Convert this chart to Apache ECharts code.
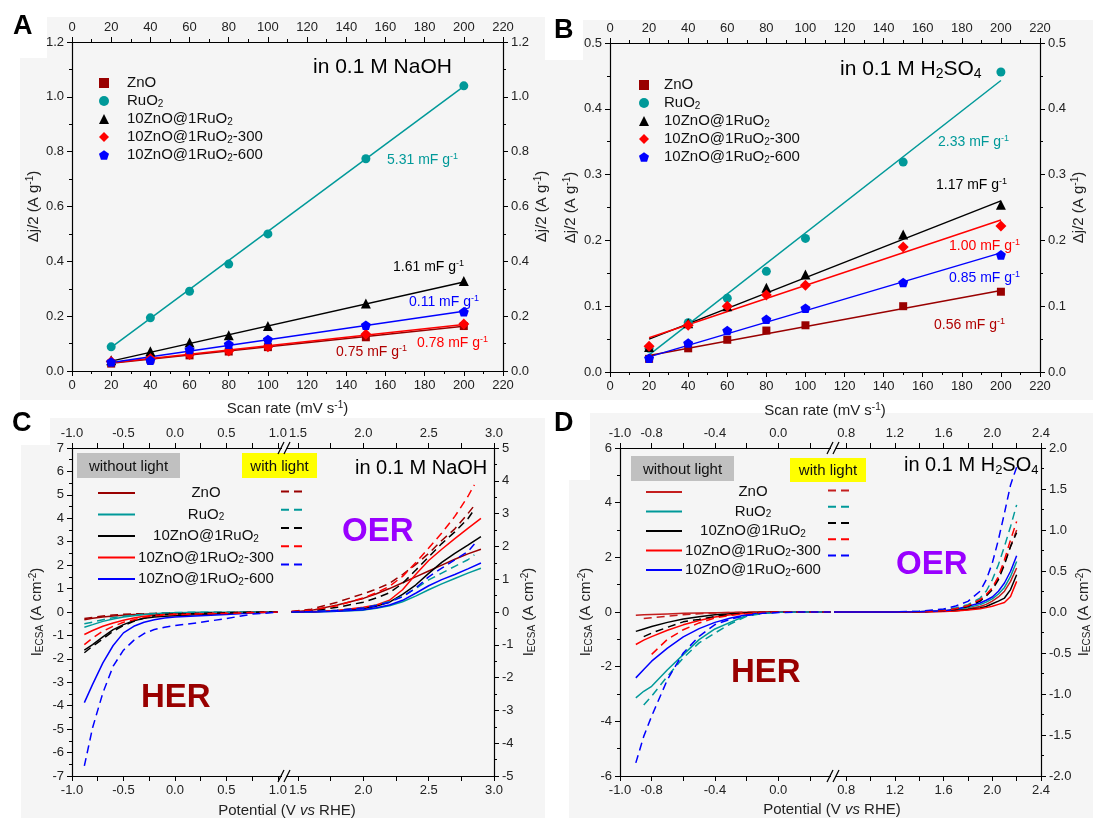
<!DOCTYPE html>
<html><head><meta charset="utf-8">
<script src="https://cdn.jsdelivr.net/npm/echarts@6/dist/echarts.min.js"></script>
<style>html,body{margin:0;padding:0;background:#fff}#c{width:1093px;height:818px}</style>
</head><body><div id="c"></div>
<script>
// ---------------- DATA ----------------
const scanRates = [20, 40, 60, 80, 100, 150, 200];
const fitX = [20, 200];
// Panel A (0.1 M NaOH), Δj/2 (A g-1)
const A_ZnO   = [0.027, 0.042, 0.057, 0.071, 0.087, 0.123, 0.164];
const A_RuO2  = [0.088, 0.194, 0.291, 0.390, 0.500, 0.774, 1.040];
const A_ZR    = [0.039, 0.072, 0.104, 0.130, 0.164, 0.246, 0.328];
const A_ZR300 = [0.035, 0.045, 0.060, 0.073, 0.088, 0.134, 0.171];
const A_ZR600 = [0.033, 0.039, 0.078, 0.098, 0.115, 0.167, 0.216];
const A_fitZnO = [0.028, 0.163], A_fitRuO2 = [0.086, 1.038], A_fitZR = [0.036, 0.325];
const A_fitZR300 = [0.030, 0.170], A_fitZR600 = [0.031, 0.218];
// Panel B (0.1 M H2SO4)
const B_ZnO   = [0.020, 0.036, 0.049, 0.063, 0.071, 0.100, 0.122];
const B_RuO2  = [0.036, 0.075, 0.112, 0.153, 0.203, 0.319, 0.456];
const B_ZR    = [0.038, 0.074, 0.100, 0.128, 0.148, 0.209, 0.254];
const B_ZR300 = [0.039, 0.071, 0.100, 0.117, 0.132, 0.190, 0.222];
const B_ZR600 = [0.021, 0.044, 0.063, 0.080, 0.097, 0.136, 0.178];
const B_fitZnO = [0.025, 0.124], B_fitRuO2 = [0.026, 0.443], B_fitZR = [0.050, 0.260];
const B_fitZR300 = [0.052, 0.231], B_fitZR600 = [0.023, 0.181];
// Panel C (NaOH) potential segments
const C_herV = [-0.88, -0.8, -0.7, -0.6, -0.5, -0.4, -0.3, -0.2, -0.1, 0.0, 0.25, 0.5, 0.75, 1.0];
const C_her_ZnO     = [-0.33, -0.27, -0.21, -0.17, -0.14, -0.11, -0.10, -0.08, -0.07, -0.06, -0.04, -0.03, -0.01, 0.0];
const C_her_ZnO_L   = [-0.28, -0.23, -0.17, -0.13, -0.10, -0.08, -0.07, -0.06, -0.05, -0.04, -0.03, -0.02, -0.01, 0.0];
const C_her_RuO2    = [-0.65, -0.54, -0.40, -0.30, -0.21, -0.16, -0.11, -0.07, -0.04, -0.03, -0.01, -0.01, -0.01, -0.01];
const C_her_RuO2_L  = [-0.50, -0.43, -0.33, -0.24, -0.18, -0.13, -0.09, -0.06, -0.04, -0.02, -0.01, -0.01, 0.0, 0.0];
const C_her_ZR      = [-1.63, -1.39, -1.06, -0.75, -0.54, -0.37, -0.27, -0.21, -0.18, -0.16, -0.11, -0.06, -0.02, 0.0];
const C_her_ZR_L    = [-1.74, -1.46, -1.15, -0.82, -0.58, -0.40, -0.26, -0.16, -0.11, -0.09, -0.06, -0.03, -0.01, 0.0];
const C_her_ZR300   = [-0.96, -0.79, -0.61, -0.47, -0.35, -0.26, -0.18, -0.14, -0.11, -0.09, -0.06, -0.03, -0.01, 0.0];
const C_her_ZR300_L = [-1.39, -1.11, -0.82, -0.61, -0.44, -0.33, -0.21, -0.16, -0.13, -0.11, -0.08, -0.06, -0.03, 0.0];
const C_her_ZR600   = [-3.87, -3.09, -2.17, -1.43, -0.89, -0.61, -0.44, -0.33, -0.26, -0.21, -0.16, -0.11, -0.04, 0.0];
const C_her_ZR600_L = [-6.57, -4.94, -3.45, -2.31, -1.63, -1.21, -0.92, -0.75, -0.65, -0.58, -0.44, -0.28, -0.09, -0.01];
const C_oerV   = [1.45, 1.6, 1.8, 2.0, 2.1, 2.2, 2.3, 2.4, 2.5, 2.6, 2.7, 2.8, 2.9];
const C_oerV_L = [1.45, 1.6, 1.8, 2.0, 2.1, 2.2, 2.3, 2.4, 2.5, 2.6, 2.7, 2.8, 2.85];
const C_oer_ZnO     = [0.0, 0.07, 0.30, 0.58, 0.78, 1.00, 1.25, 1.50, 1.75, 2.00, 2.25, 2.48, 2.68];
const C_oer_ZnO_L   = [0.02, 0.12, 0.42, 0.78, 0.98, 1.22, 1.60, 2.02, 2.50, 3.05, 3.55, 4.20, 4.55];
const C_oer_RuO2    = [0.0, 0.0, 0.03, 0.08, 0.16, 0.27, 0.44, 0.68, 0.95, 1.20, 1.43, 1.66, 1.87];
const C_oer_RuO2_L  = [0.0, 0.02, 0.07, 0.17, 0.30, 0.45, 0.67, 1.00, 1.37, 1.66, 1.95, 2.23, 2.44];
const C_oer_ZR      = [0.0, 0.01, 0.05, 0.15, 0.25, 0.42, 0.75, 1.15, 1.65, 2.12, 2.50, 2.85, 3.22];
const C_oer_ZR_L    = [0.01, 0.05, 0.20, 0.42, 0.60, 0.82, 1.22, 1.78, 2.35, 2.92, 3.42, 3.98, 4.38];
const C_oer_ZR300   = [0.0, 0.01, 0.06, 0.20, 0.30, 0.50, 0.95, 1.60, 2.20, 2.68, 3.13, 3.57, 4.00];
const C_oer_ZR300_L = [0.02, 0.08, 0.27, 0.60, 0.82, 1.10, 1.52, 2.10, 2.73, 3.37, 4.08, 4.93, 5.43];
const C_oer_ZR600   = [0.0, 0.0, 0.03, 0.10, 0.18, 0.30, 0.50, 0.80, 1.12, 1.38, 1.60, 1.84, 2.09];
const C_oer_ZR600_L = [0.0, 0.02, 0.07, 0.17, 0.28, 0.42, 0.65, 1.02, 1.50, 1.87, 2.23, 2.58, 2.90];
// Panel D (H2SO4)
const D_herV = [-0.9, -0.85, -0.8, -0.7, -0.6, -0.5, -0.4, -0.3, -0.2, -0.1, 0.0, 0.15, 0.33];
const D_her_ZnO     = [-0.12, -0.10, -0.09, -0.07, -0.05, -0.04, -0.03, -0.02, -0.01, 0, 0, 0, 0];
const D_her_ZnO_L   = [null, -0.24, -0.21, -0.15, -0.10, -0.06, -0.04, -0.02, -0.01, 0, 0, 0, 0];
const D_her_RuO2    = [-3.14, -2.90, -2.72, -2.11, -1.56, -1.01, -0.62, -0.37, -0.13, -0.04, -0.01, 0, 0];
const D_her_RuO2_L  = [null, -3.40, -3.08, -2.35, -1.68, -1.13, -0.77, -0.43, -0.16, -0.05, -0.01, 0, 0];
const D_her_ZR      = [-0.71, -0.62, -0.53, -0.38, -0.26, -0.17, -0.10, -0.06, -0.03, -0.01, 0, 0, 0];
const D_her_ZR_L    = [null, -0.90, -0.77, -0.56, -0.36, -0.27, -0.16, -0.08, -0.04, -0.02, 0, 0, 0];
const D_her_ZR300   = [-1.19, -1.03, -0.90, -0.67, -0.47, -0.31, -0.18, -0.10, -0.05, -0.02, 0, 0, 0];
const D_her_ZR300_L = [null, null, -1.55, -1.00, -0.65, -0.40, -0.22, -0.12, -0.06, -0.02, 0, 0, 0];
const D_her_ZR600   = [-2.41, -2.10, -1.80, -1.32, -0.91, -0.61, -0.38, -0.22, -0.10, -0.04, -0.01, 0, 0];
const D_her_ZR600_L = [-5.52, -4.55, -3.81, -2.47, -1.50, -0.89, -0.46, -0.26, -0.13, -0.05, -0.02, 0, 0];
const D_oerV = [0.7, 1.0, 1.2, 1.4, 1.6, 1.7, 1.8, 1.9, 1.95, 2.0, 2.05, 2.1, 2.15, 2.2];
const D_oer_ZnO     = [0, 0, 0, 0.01, 0.04, 0.07, 0.12, 0.20, 0.28, 0.40, 0.55, 0.76, 1.12, 1.61];
const D_oer_ZnO_L   = [0, 0, 0, 0.01, 0.06, 0.12, 0.23, 0.45, 0.62, 0.88, 1.25, 1.79, 2.40, 3.00];
const D_oer_RuO2    = [0, 0, 0, 0.01, 0.04, 0.08, 0.16, 0.27, 0.36, 0.48, 0.66, 0.90, 1.30, 1.85];
const D_oer_RuO2_L  = [0, 0, 0, 0.02, 0.09, 0.16, 0.27, 0.51, 0.76, 1.18, 1.73, 2.40, 3.13, 3.92];
const D_oer_ZR      = [0, 0, 0, 0.01, 0.03, 0.05, 0.09, 0.15, 0.20, 0.30, 0.40, 0.51, 0.82, 1.36];
const D_oer_ZR_L    = [0, 0, 0, 0.01, 0.05, 0.10, 0.20, 0.40, 0.58, 0.82, 1.18, 1.73, 2.40, 2.90];
const D_oer_ZR300   = [0, 0, 0, 0, 0.02, 0.04, 0.07, 0.12, 0.16, 0.21, 0.28, 0.35, 0.57, 1.12];
const D_oer_ZR300_L = [0, 0, 0, 0.01, 0.05, 0.12, 0.23, 0.45, 0.64, 0.88, 1.30, 1.91, 2.64, 3.31];
const D_oer_ZR600   = [0, 0, 0, 0.01, 0.05, 0.10, 0.21, 0.33, 0.43, 0.55, 0.76, 1.06, 1.49, 2.06];
const D_oer_ZR600_L = [0, 0, 0, 0.03, 0.11, 0.22, 0.39, 0.76, 1.18, 1.79, 2.64, 3.62, 4.65, 5.30];
// tick / label values for broken axes
const C_leftLabels = [-1.0, -0.5, 0.0, 0.5, 1.0];
const C_leftTicks = [-1.0, -0.75, -0.5, -0.25, 0.0, 0.25, 0.5, 0.75, 1.0];
const C_rightLabels = [1.5, 2.0, 2.5, 3.0];
const C_rightTicks = [1.5, 1.75, 2.0, 2.25, 2.5, 2.75, 3.0];
const D_leftLabels = [-1.0, -0.8, -0.4, 0.0];
const D_leftTicks = [-1.0, -0.8, -0.6, -0.4, -0.2, 0.0, 0.2];
const D_rightLabels = [0.8, 1.2, 1.6, 2.0, 2.4];
const D_rightTicks = [0.8, 1.0, 1.2, 1.4, 1.6, 1.8, 2.0, 2.2, 2.4];

// ---------------- STYLE ----------------
const FONT = '"Liberation Sans", Arial, Helvetica, sans-serif';
const TEAL = '#009999', DRED = '#990000', BLUE = '#0000ff', RED = '#ff0000', BLK = '#000000';
const DZNO = '#c41e1e';
const NONE = 'rgba(0,0,0,0)';
function rich(fs) {
  const s = Math.round(fs * 0.66), h = Math.round(fs * 0.45);
  return {
    s: {fontSize: s, lineHeight: h, verticalAlign: 'bottom', fontFamily: FONT},
    p: {fontSize: s, lineHeight: h, verticalAlign: 'top', fontFamily: FONT},
    i: {fontSize: fs, fontStyle: 'italic', fontFamily: FONT, lineHeight: Math.round(fs * 1.15)}
  };
}
function merge(a, b) {
  for (const k in b) {
    const v = b[k];
    if (v && typeof v === 'object' && !Array.isArray(v) && a[k] && typeof a[k] === 'object' && !Array.isArray(a[k])) merge(a[k], v);
    else a[k] = v;
  }
  return a;
}
function axisBase() {
  return {
    type: 'value',
    axisLine: {show: true, onZero: false, lineStyle: {color: '#000', width: 1.2}},
    axisTick: {show: true, length: 5, lineStyle: {color: '#000', width: 1}},
    minorTick: {show: false, length: 3, lineStyle: {color: '#000', width: 1}},
    splitLine: {show: false}, minorSplitLine: {show: false},
    axisLabel: {fontSize: 13, color: '#222', fontFamily: FONT, margin: 8},
    nameTextStyle: {fontSize: 15, color: '#222', fontFamily: FONT, lineHeight: 17, rich: rich(15)}
  };
}
function ax(o) { return merge(axisBase(), o); }
const f1 = v => v.toFixed(1);
const f0 = v => String(Math.round(v));

function pts(xs, ys) { const out = []; xs.forEach((x, i) => { if (ys[i] !== null && ys[i] !== undefined) out.push([x, ys[i]]); }); return out; }
function sc(name, ys, sym, size, color, xi, yi) {
  return {type: 'scatter', name, data: pts(scanRates, ys), symbol: sym, symbolSize: size, symbolKeepAspect: true,
    itemStyle: {color, opacity: 1}, xAxisIndex: xi, yAxisIndex: yi, z: 4, silent: true};
}
function ln(name, xs, ys, color, dashed, xi, yi, w) {
  return {type: 'line', name, data: pts(xs, ys), symbol: 'none', showSymbol: false,
    lineStyle: {color, width: w || 1.5, type: dashed ? [8, 5] : 'solid'}, itemStyle: {color: NONE},
    xAxisIndex: xi, yAxisIndex: yi, z: 3, silent: true};
}
const PENT = 'path://M50,0 L97.6,34.5 L79.4,90.5 L20.6,90.5 L2.4,34.5 Z';
const LAB = {ZnO: 'ZnO', RuO2: 'RuO{s|2}', ZR: '10ZnO@1RuO{s|2}', ZR300: '10ZnO@1RuO{s|2}-300', ZR600: '10ZnO@1RuO{s|2}-600'};
const LABC = {ZnO: '{t|ZnO}', RuO2: '{t|RuO}{c|2}', ZR: '{t|10ZnO@1RuO}{c|2}', ZR300: '{t|10ZnO@1RuO}{c|2}{t|-300}', ZR600: '{t|10ZnO@1RuO}{c|2}{t|-600}'};
const KEYS = ['ZnO', 'RuO2', 'ZR', 'ZR300', 'ZR600'];

// ---------------- AXES ----------------
const xAxis = [
  ax({gridIndex: 0, position: 'bottom', min: 0, max: 220, interval: 20, minorTick: {show: true, splitNumber: 2},
      name: 'Scan rate (mV s{p|-1})', nameLocation: 'middle', nameGap: 29}),
  ax({gridIndex: 0, position: 'top', min: 0, max: 220, interval: 20, minorTick: {show: true, splitNumber: 2}}),
  ax({gridIndex: 1, position: 'bottom', min: 0, max: 220, interval: 20, minorTick: {show: true, splitNumber: 2},
      name: 'Scan rate (mV s{p|-1})', nameLocation: 'middle', nameGap: 30}),
  ax({gridIndex: 1, position: 'top', min: 0, max: 220, interval: 20, minorTick: {show: true, splitNumber: 2}}),
  ax({gridIndex: 2, position: 'bottom', min: -1.0, max: 1.05, axisLabel: {customValues: C_leftLabels, formatter: f1}, axisTick: {customValues: C_leftTicks}}),
  ax({gridIndex: 2, position: 'top', min: -1.0, max: 1.05, axisLabel: {customValues: C_leftLabels, formatter: f1}, axisTick: {customValues: C_leftTicks}}),
  ax({gridIndex: 3, position: 'bottom', min: 1.4, max: 3.0, axisLabel: {customValues: C_rightLabels, formatter: f1}, axisTick: {customValues: C_rightTicks}}),
  ax({gridIndex: 3, position: 'top', min: 1.4, max: 3.0, axisLabel: {customValues: C_rightLabels, formatter: f1}, axisTick: {customValues: C_rightTicks}}),
  ax({gridIndex: 4, position: 'bottom', min: -1.0, max: 0.34, axisLabel: {customValues: D_leftLabels, formatter: f1}, axisTick: {customValues: D_leftTicks}}),
  ax({gridIndex: 4, position: 'top', min: -1.0, max: 0.34, axisLabel: {customValues: D_leftLabels, formatter: f1}, axisTick: {customValues: D_leftTicks}}),
  ax({gridIndex: 5, position: 'bottom', min: 0.7, max: 2.4, axisLabel: {customValues: D_rightLabels, formatter: f1}, axisTick: {customValues: D_rightTicks}}),
  ax({gridIndex: 5, position: 'top', min: 0.7, max: 2.4, axisLabel: {customValues: D_rightLabels, formatter: f1}, axisTick: {customValues: D_rightTicks}})
];
const AJ = 'Δj/2 (A g{p|-1})';
const IE = 'I{s|ECSA} (A cm{p|-2})';
const yAxis = [
  ax({gridIndex: 0, position: 'left', min: 0, max: 1.2, interval: 0.2, minorTick: {show: true, splitNumber: 2}, axisLabel: {formatter: f1},
      name: AJ, nameLocation: 'middle', nameRotate: 90, nameGap: 30}),
  ax({gridIndex: 0, position: 'right', min: 0, max: 1.2, interval: 0.2, minorTick: {show: true, splitNumber: 2}, axisLabel: {formatter: f1},
      name: AJ, nameLocation: 'middle', nameRotate: 90, nameGap: 29}),
  ax({gridIndex: 1, position: 'left', min: 0, max: 0.5, interval: 0.1, minorTick: {show: true, splitNumber: 2}, axisLabel: {formatter: f1},
      name: AJ, nameLocation: 'middle', nameRotate: 90, nameGap: 31}),
  ax({gridIndex: 1, position: 'right', min: 0, max: 0.5, interval: 0.1, minorTick: {show: true, splitNumber: 2}, axisLabel: {formatter: f1},
      name: AJ, nameLocation: 'middle', nameRotate: 90, nameGap: 29}),
  ax({gridIndex: 2, position: 'left', min: -7, max: 7, interval: 1, minorTick: {show: true, splitNumber: 2}, axisLabel: {formatter: f0},
      name: IE, nameLocation: 'middle', nameRotate: 90, nameGap: 27}),
  ax({gridIndex: 3, position: 'right', min: -5, max: 5, interval: 1, minorTick: {show: true, splitNumber: 2}, axisLabel: {formatter: f0},
      name: IE, nameLocation: 'middle', nameRotate: 90, nameGap: 26}),
  {type: 'value', gridIndex: 3, position: 'left', min: -7, max: 7, show: false},
  ax({gridIndex: 4, position: 'left', min: -6, max: 6, interval: 2, minorTick: {show: true, splitNumber: 2}, axisLabel: {formatter: f0},
      name: IE, nameLocation: 'middle', nameRotate: 90, nameGap: 26}),
  ax({gridIndex: 5, position: 'right', min: -2, max: 2, interval: 0.5, minorTick: {show: true, splitNumber: 2}, axisLabel: {formatter: f1},
      name: IE, nameLocation: 'middle', nameRotate: 90, nameGap: 31}),
  {type: 'value', gridIndex: 5, position: 'left', min: -6, max: 6, show: false}
];

// ---------------- SERIES ----------------
const series = [];
// Panel A
[[A_fitZnO, DRED], [A_fitRuO2, TEAL], [A_fitZR, BLK], [A_fitZR300, RED], [A_fitZR600, BLUE]].forEach(([f, c]) =>
  series.push(ln('A_fit', fitX, f, c, false, 0, 0, 1.5)));
series.push(sc('A_ZnO', A_ZnO, 'rect', 8, DRED, 0, 0));
series.push(sc('A_RuO2', A_RuO2, 'circle', 9, TEAL, 0, 0));
series.push(sc('A_ZR', A_ZR, 'triangle', 10, BLK, 0, 0));
series.push(sc('A_ZR300', A_ZR300, 'diamond', 11, RED, 0, 0));
series.push(sc('A_ZR600', A_ZR600, PENT, 10, BLUE, 0, 0));
// Panel B
[[B_fitZnO, DRED], [B_fitRuO2, TEAL], [B_fitZR, BLK], [B_fitZR300, RED], [B_fitZR600, BLUE]].forEach(([f, c]) =>
  series.push(ln('B_fit', fitX, f, c, false, 2, 2, 1.5)));
series.push(sc('B_ZnO', B_ZnO, 'rect', 8, DRED, 2, 2));
series.push(sc('B_RuO2', B_RuO2, 'circle', 9, TEAL, 2, 2));
series.push(sc('B_ZR', B_ZR, 'triangle', 10, BLK, 2, 2));
series.push(sc('B_ZR300', B_ZR300, 'diamond', 11, RED, 2, 2));
series.push(sc('B_ZR600', B_ZR600, PENT, 10, BLUE, 2, 2));
// Panel C
const C_her = {ZnO: [C_her_ZnO, C_her_ZnO_L], RuO2: [C_her_RuO2, C_her_RuO2_L], ZR: [C_her_ZR, C_her_ZR_L], ZR300: [C_her_ZR300, C_her_ZR300_L], ZR600: [C_her_ZR600, C_her_ZR600_L]};
const C_oer = {ZnO: [C_oer_ZnO, C_oer_ZnO_L], RuO2: [C_oer_RuO2, C_oer_RuO2_L], ZR: [C_oer_ZR, C_oer_ZR_L], ZR300: [C_oer_ZR300, C_oer_ZR300_L], ZR600: [C_oer_ZR600, C_oer_ZR600_L]};
const C_col = {ZnO: DRED, RuO2: TEAL, ZR: BLK, ZR300: RED, ZR600: BLUE};
const D_col = {ZnO: DZNO, RuO2: TEAL, ZR: BLK, ZR300: RED, ZR600: BLUE};
KEYS.forEach(k => {
  series.push(ln('C_' + k, C_herV, C_her[k][0], C_col[k], false, 4, 4));
  series.push(ln('C_' + k, C_oerV, C_oer[k][0], C_col[k], false, 6, 6));
});
KEYS.forEach(k => {
  series.push(ln('C_' + k + '_L', C_herV, C_her[k][1], C_col[k], true, 4, 4));
  series.push(ln('C_' + k + '_L', C_oerV_L, C_oer[k][1], C_col[k], true, 6, 6));
});
// Panel D
const D_her = {ZnO: [D_her_ZnO, D_her_ZnO_L], RuO2: [D_her_RuO2, D_her_RuO2_L], ZR: [D_her_ZR, D_her_ZR_L], ZR300: [D_her_ZR300, D_her_ZR300_L], ZR600: [D_her_ZR600, D_her_ZR600_L]};
const D_oer = {ZnO: [D_oer_ZnO, D_oer_ZnO_L], RuO2: [D_oer_RuO2, D_oer_RuO2_L], ZR: [D_oer_ZR, D_oer_ZR_L], ZR300: [D_oer_ZR300, D_oer_ZR300_L], ZR600: [D_oer_ZR600, D_oer_ZR600_L]};
KEYS.forEach(k => {
  series.push(ln('D_' + k, D_herV, D_her[k][0], D_col[k], false, 8, 7));
  series.push(ln('D_' + k, D_oerV, D_oer[k][0], D_col[k], false, 10, 9));
});
KEYS.forEach(k => {
  series.push(ln('D_' + k + '_L', D_herV, D_her[k][1], D_col[k], true, 8, 7));
  series.push(ln('D_' + k + '_L', D_oerV, D_oer[k][1], D_col[k], true, 10, 9));
});

// ---------------- LEGENDS ----------------
const legText = {fontSize: 15, lineHeight: 16, color: '#111', fontFamily: FONT, rich: rich(15)};
const legCText = {fontSize: 15, lineHeight: 16, color: '#111', fontFamily: FONT, width: 132,
  rich: {t: {align: 'center', fontSize: 15, lineHeight: 16, fontFamily: FONT},
         c: {align: 'center', fontSize: 10, lineHeight: 7, verticalAlign: 'bottom', fontFamily: FONT}}};
function symLegend(prefix, left, top, pad) {
  return {orient: 'vertical', left, top, padding: 0, itemWidth: 10, itemHeight: 10, itemGap: 2, selectedMode: false,
    data: KEYS.map(k => prefix + k), formatter: n => LAB[n.split('_')[1]],
    textStyle: merge(JSON.parse(JSON.stringify(legText)), {padding: [0, 0, 0, pad]})};
}
function lineLegend(prefix, left, top, w, gap) {
  return {orient: 'vertical', left, top, padding: 0, itemWidth: w, itemHeight: 16, itemGap: gap, selectedMode: false,
    itemStyle: {opacity: 0},
    data: KEYS.map(k => prefix + k), formatter: n => LABC[n.split('_')[1]], textStyle: legCText};
}
function dashLegend(prefix, left, top, w, gap) {
  return {orient: 'vertical', left, top, padding: 0, itemWidth: w, itemHeight: 16, itemGap: gap, selectedMode: false,
    itemStyle: {opacity: 0},
    data: KEYS.map(k => prefix + k + '_L'), formatter: () => '', textStyle: {fontSize: 15, lineHeight: 16}};
}
const legend = [
  symLegend('A_', 99, 75, 13),
  symLegend('B_', 639, 77, 10),
  lineLegend('C_', 97, 485, 37, 5.5),
  dashLegend('C_', 280, 485, 23, 5.5),
  lineLegend('D_', 645, 484, 36, 3.5),
  dashLegend('D_', 827, 484, 25, 3.5)
];

// ---------------- GRAPHIC (texts / decorations) ----------------
const G = [];
const GRAY = '#f5f5f5';
[[20, 17, 525, 383], [545, 20, 548, 380], [21, 418, 524, 400], [569, 413, 524, 405]].forEach(r =>
  G.push({type: 'rect', shape: {x: r[0], y: r[1], width: r[2], height: r[3]}, style: {fill: GRAY}, z: -10, silent: true}));
[[20, 17, 27, 41], [545, 20, 38, 40], [21, 418, 29, 27], [569, 413, 21, 67]].forEach(r =>
  G.push({type: 'rect', shape: {x: r[0], y: r[1], width: r[2], height: r[3]}, style: {fill: '#ffffff'}, z: -9, silent: true}));
function T(x, y, text, fs, fill, o) {
  return merge({type: 'text', x, y, z: 100, silent: true,
    style: {text, fontSize: fs, fontFamily: FONT, fill, align: 'left', verticalAlign: 'middle',
      lineHeight: Math.round(fs * 1.15), rich: rich(fs)}}, o || {});
}
G.push(T(13, 27, 'A', 27, '#000', {style: {fontWeight: 'bold'}}));
G.push(T(554, 31, 'B', 27, '#000', {style: {fontWeight: 'bold'}}));
G.push(T(12, 424, 'C', 27, '#000', {style: {fontWeight: 'bold'}}));
G.push(T(554, 424, 'D', 27, '#000', {style: {fontWeight: 'bold'}}));
G.push(T(313, 67, 'in 0.1 M NaOH', 21, '#000'));
G.push(T(840, 69, 'in 0.1 M H{s|2}SO{s|4}', 21, '#000'));
G.push(T(355, 468, 'in 0.1 M NaOH', 20, '#000'));
G.push(T(904, 465, 'in 0.1 M H{s|2}SO{s|4}', 20, '#000'));
[['5.31', 387, 160, TEAL], ['1.61', 393, 267, BLK], ['0.11', 409, 302, BLUE], ['0.75', 336, 352, '#b00000'], ['0.78', 417, 343, RED],
 ['2.33', 938, 142, TEAL], ['1.17', 936, 185, BLK], ['1.00', 949, 246, RED], ['0.85', 949, 278, BLUE], ['0.56', 934, 325, '#b00000']]
  .forEach(a => G.push(T(a[1], a[2], a[0] + ' mF g{p|-1}', 14, a[3])));
// light boxes
[[77, 453, 103, 25, '#c0c0c0', 'without light'], [242, 453, 75, 25, '#ffff00', 'with light'],
 [631, 456, 103, 25, '#c0c0c0', 'without light'], [790, 458, 76, 24, '#ffff00', 'with light']].forEach(b => {
  G.push({type: 'rect', shape: {x: b[0], y: b[1], width: b[2], height: b[3]}, style: {fill: b[4]}, z: 90, silent: true});
  G.push(T(b[0] + b[2] / 2, b[1] + b[3] / 2 + 1, b[5], 15, '#111', {style: {align: 'center'}}));
});
G.push(T(342, 532, 'OER', 33, '#9900ff', {style: {fontWeight: 'bold'}}));
G.push(T(141, 698, 'HER', 33, '#990000', {style: {fontWeight: 'bold'}}));
G.push(T(896, 565, 'OER', 33, '#9900ff', {style: {fontWeight: 'bold'}}));
G.push(T(731, 673, 'HER', 33, '#990000', {style: {fontWeight: 'bold'}}));
G.push(T(287, 811, 'Potential (V {i|vs} RHE)', 15, '#222', {style: {align: 'center'}}));
G.push(T(832, 810, 'Potential (V {i|vs} RHE)', 15, '#222', {style: {align: 'center'}}));
// axis break marks
[[284, 448], [284, 776], [833, 448], [833, 776]].forEach(([cx, cy]) => {
  G.push({type: 'rect', shape: {x: cx - 2, y: cy - 2, width: 4, height: 4}, style: {fill: GRAY}, z: 95, silent: true});
  [-3, 3].forEach(dx => G.push({type: 'line', shape: {x1: cx + dx - 3, y1: cy + 6, x2: cx + dx + 3, y2: cy - 6},
    style: {stroke: '#000', lineWidth: 1.2}, z: 96, silent: true}));
});

// ---------------- CHART ----------------
const grid = [
  {left: 72, top: 42, width: 431, height: 329},
  {left: 610, top: 43, width: 430, height: 329},
  {left: 72, top: 448, width: 211, height: 328},
  {left: 285, top: 448, width: 209, height: 328},
  {left: 620, top: 448, width: 212, height: 328},
  {left: 834, top: 448, width: 207, height: 328}
].map(g => Object.assign(g, {containLabel: false, outerBoundsMode: 'none', show: false}));

const chart = echarts.init(document.getElementById('c'), null, {renderer: 'canvas'});
chart.setOption({
  backgroundColor: '#ffffff',
  animation: false,
  textStyle: {fontFamily: FONT},
  grid, xAxis, yAxis, legend, series,
  graphic: {elements: G}
});
</script>
</body></html>
